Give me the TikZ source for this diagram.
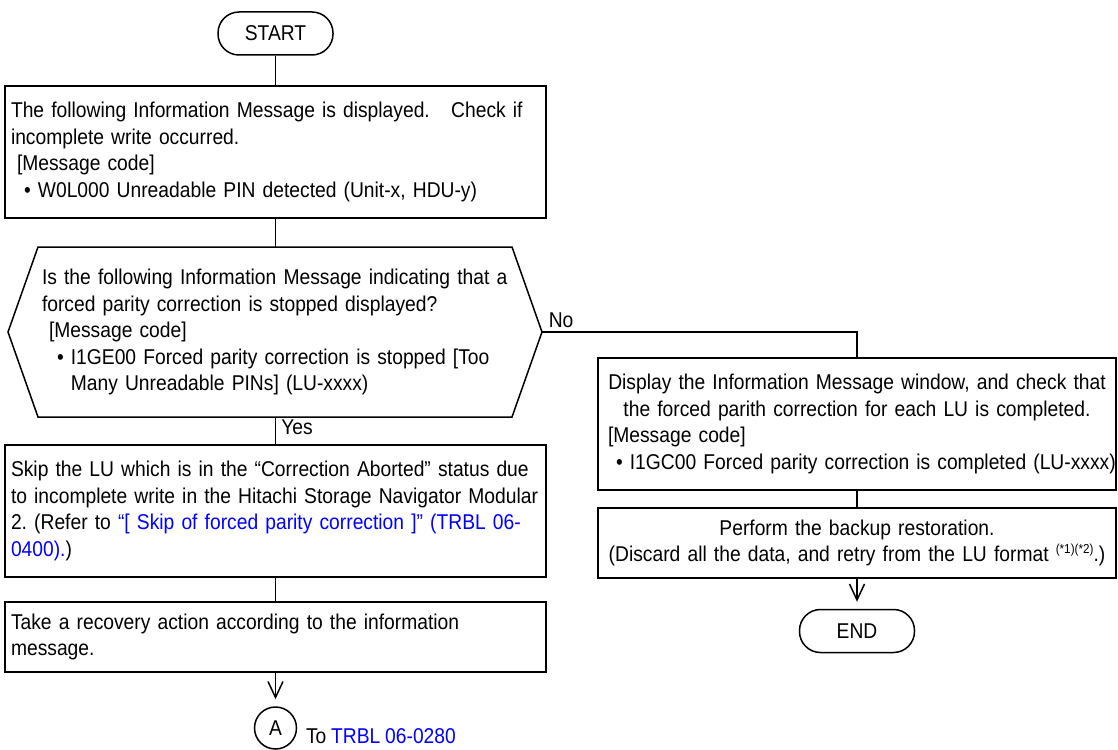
\documentclass[tikz,border=0pt]{standalone}
\usepackage{fontspec}
\setmainfont{Liberation Sans}[FakeStretch=0.9, WordSpace=0.9]
\usepackage{xcolor}
\usetikzlibrary{arrows.meta,positioning}
\definecolor{linkblue}{RGB}{0,0,255}
\newcommand{\lline}[1]{\makebox[506pt][l]{#1}}
\frenchspacing
\hyphenpenalty=10000

\begin{document}
\begin{tikzpicture}[
  x=1pt, y=-1pt,
  font=\fontsize{21.4pt}{26.5pt}\selectfont,
  line width=1.5pt,
  box/.style={draw, rectangle, inner xsep=6pt, inner ysep=0pt, align=left},
  term/.style={draw, rounded corners=21pt, minimum width=115pt, minimum height=43pt, inner sep=0pt},
  conn/.style={draw, circle, minimum size=42pt, inner sep=0pt},
  ar/.style={-{Straight Barb[length=16pt,width=15pt]}, shorten >=7pt},
]
\useasboundingbox (0,0) rectangle (1118,749);

% left column
\node[term] (start) at (275.5,33.5) {START};
\node[box, minimum height=132pt, text width=529pt] (msg) at (275.5,152) {%
The following Information Message is displayed.\ \ \ Check if\\
incomplete write occurred.\\
\hspace*{6pt}[Message code]\\
\hspace*{13pt}\textbullet\ W0L000 Unreadable PIN detected (Unit-x, HDU-y)};

\node[align=left, text width=480pt, inner sep=0pt] (chk) at (282,332) {%
Is the following Information Message indicating that a\\
forced parity correction is stopped displayed?\\
\hspace*{7pt}[Message code]\\
\hspace*{15pt}\textbullet\ I1GE00 Forced parity correction is stopped [Too\\
\hspace*{15pt}\phantom{\textbullet\ }Many Unreadable PINs] (LU-xxxx)};
\coordinate (chkN) at (275.5,247);
\coordinate (chkS) at (275.5,417);
\coordinate (chkW) at (8,332);
\coordinate (chkE) at (542,332);
\draw (chkW) -- (38,247) -- (512,247) -- (chkE) -- (512,417) -- (38,417) -- cycle;

\node[box, minimum height=132pt, text width=529pt] (skip) at (275.5,511) {%
Skip the LU which is in the “Correction Aborted” status due\\
to incomplete write in the Hitachi Storage Navigator Modular\\
2. (Refer to {\color{linkblue}“[ Skip of forced parity correction ]” (TRBL 06-}\\
{\color{linkblue}0400).})};
\node[box, minimum height=70pt, text width=529pt] (recov) at (275.5,637) {%
Take a recovery action according to the information\\
message.};
\node[conn] (conA) at (275.5,728) {A};
\node[right=7pt of conA, yshift=-8pt, inner sep=1pt] (toref) {To {\color{linkblue}TRBL 06-0280}};

% right column
\node[box, align=center, minimum height=132pt, text width=506pt] (disp) at (857,424) {%
Display the Information Message window, and check that\\
the forced parith correction for each LU is completed.\\
\lline{\hspace*{4pt}[Message code]}\\
\lline{\hspace*{12pt}\textbullet\ I1GC00 Forced parity correction is completed (LU-xxxx)}};
\node[box, align=center, minimum height=70pt, text width=506pt] (restore) at (857,543) {%
Perform the backup restoration.\\
(Discard all the data, and retry from the LU format {\fontsize{13pt}{13pt}\selectfont\raisebox{8pt}{(*1)(*2)}}.)};
\node[term] (fin) at (857,631) {END};

% labels
\node[below right=1pt and 4pt of chkS, inner sep=1pt] (yes) {Yes};
\node[above right=3pt and 5pt of chkE, inner sep=1pt] (no) {No};

% connectors
\draw (start) -- (msg);
\draw (msg) -- (chkN);
\draw (chkS) -- (skip);
\draw (skip) -- (recov);
\draw[ar] (recov) -- (conA);
\draw (chkE) -| (disp);
\draw (disp) -- (restore);
\draw[ar] (restore) -- (fin);
\end{tikzpicture}
\end{document}
